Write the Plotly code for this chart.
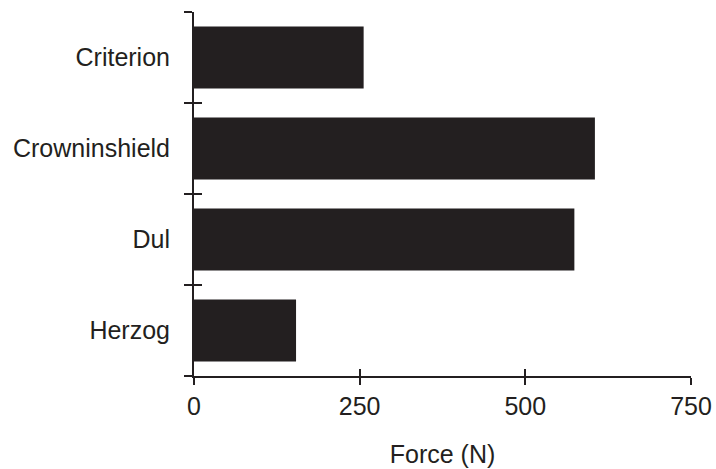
import plotly.graph_objects as go

categories = ["Criterion", "Crowninshield", "Dul", "Herzog"]
force_values = [256, 605, 574, 154]
x_tick_values = [0, 250, 500, 750]
x_tick_labels = ["0", "250", "500", "750"]

ink = "#231f20"
font_family = "Liberation Sans, Arial, Helvetica, sans-serif"
cat_order = list(reversed(categories))

fig = go.Figure()
fig.add_trace(go.Bar(
    x=force_values, y=categories, orientation="h",
    marker=dict(color=ink, line=dict(width=0)),
    hoverinfo="x+y", showlegend=False,
))
# invisible copy for the overlay axes that draw the inner half of the ticks
fig.add_trace(go.Bar(
    x=force_values, y=categories, orientation="h",
    xaxis="x2", yaxis="y2",
    marker=dict(color="rgba(0,0,0,0)", line=dict(width=0)),
    hoverinfo="skip", showlegend=False,
))

common_x = dict(range=[0, 750], tickvals=x_tick_values, ticktext=x_tick_labels,
                showgrid=False, zeroline=False, tickcolor=ink, tickwidth=2, ticklen=7)
common_y = dict(type="category", categoryorder="array", categoryarray=cat_order,
                tickson="boundaries", showgrid=False, zeroline=False,
                tickcolor=ink, tickwidth=2, ticklen=8)

fig.update_layout(
    width=716, height=469,
    margin=dict(l=194, r=25, t=12, b=93, autoexpand=False),
    paper_bgcolor="white", plot_bgcolor="white",
    bargap=0.32,
    font=dict(family=font_family, size=25, color=ink),
    xaxis=dict(**common_x, ticks="outside", showline=True, linecolor=ink, linewidth=2,
               tickfont=dict(size=25, color=ink),
               title=dict(text="Force (N)", font=dict(size=25, color=ink), standoff=26)),
    yaxis=dict(**common_y, ticks="outside", showline=True, linecolor=ink, linewidth=2,
               tickfont=dict(size=25, color=ink), ticklabelstandoff=17),
    xaxis2=dict(**common_x, overlaying="x", anchor="y2", side="bottom", ticks="inside",
                showticklabels=False, showline=False),
    yaxis2=dict(**common_y, overlaying="y", anchor="x2", side="left", ticks="inside",
                showticklabels=False, showline=False),
)

fig.write_html(
    "out.html",
    config={"displayModeBar": False},
    post_script="document.body.style.margin='0';document.body.style.overflow='hidden';",
)
